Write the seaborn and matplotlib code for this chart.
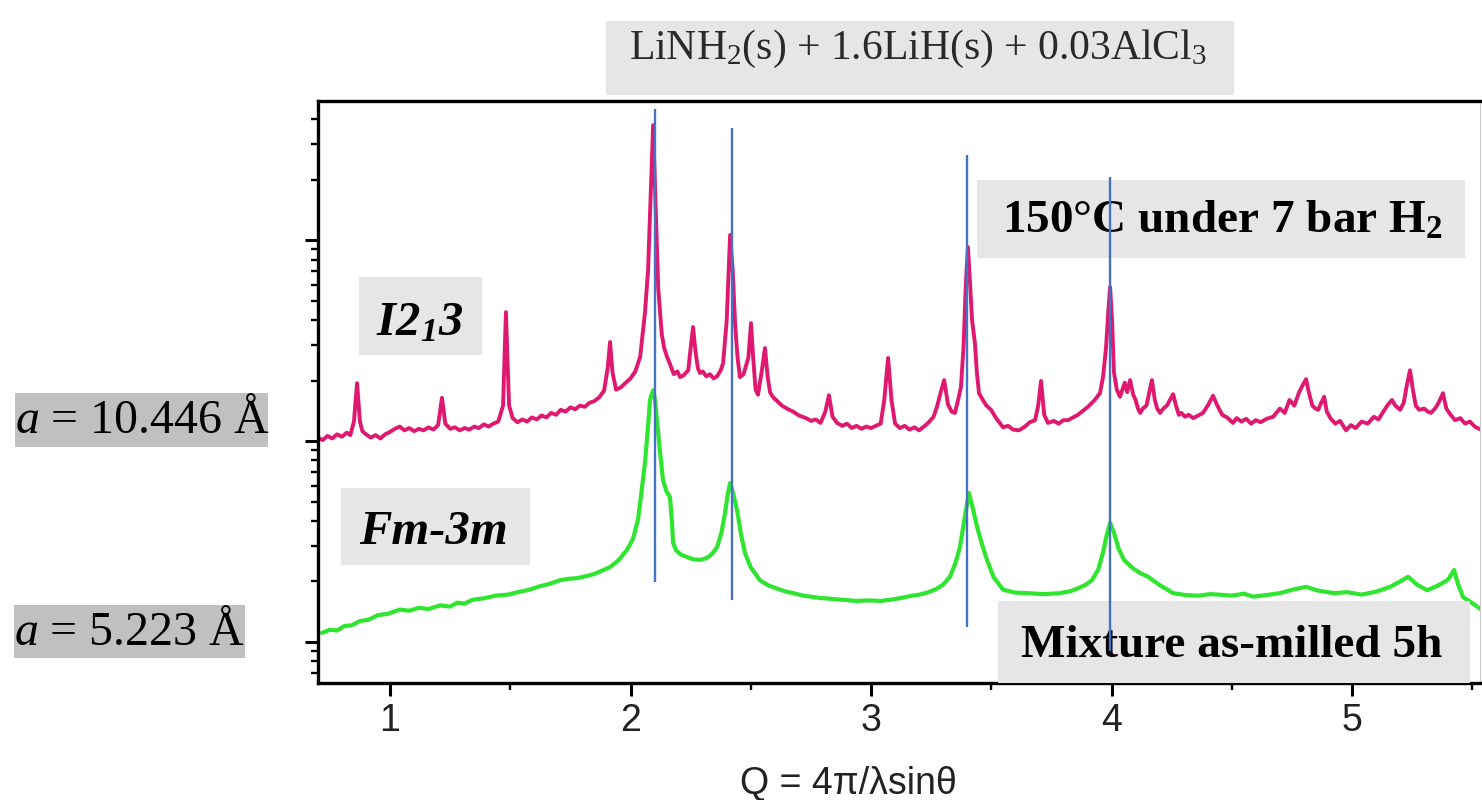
import matplotlib
matplotlib.use("Agg")
import matplotlib.pyplot as plt
import seaborn as sns
import numpy as np
from matplotlib.patches import Rectangle
from matplotlib.ticker import MultipleLocator, LogLocator, NullFormatter

# 150C / 7 bar H2 pattern (Q, counts)
pink_q = [0.70, 0.72, 0.74, 0.76, 0.78, 0.80, 0.82, 0.835, 0.85, 0.863,
          0.875, 0.885, 0.90, 0.92, 0.94, 0.96, 0.98, 1.00, 1.02, 1.04,
          1.06, 1.08, 1.10, 1.12, 1.14, 1.16, 1.18, 1.20, 1.216, 1.23,
          1.25, 1.27, 1.29, 1.31, 1.33, 1.35, 1.37, 1.39, 1.41, 1.43,
          1.45, 1.47, 1.482, 1.495, 1.51, 1.53, 1.55, 1.57, 1.59, 1.61,
          1.63, 1.65, 1.67, 1.69, 1.71, 1.73, 1.75, 1.77, 1.79, 1.81,
          1.83, 1.85, 1.87, 1.89, 1.905, 1.915, 1.925, 1.94, 1.96, 1.98,
          2.00, 2.02, 2.04, 2.06, 2.073, 2.085, 2.094, 2.105, 2.115, 2.13,
          2.14, 2.152, 2.165, 2.18, 2.195, 2.206, 2.22, 2.24, 2.25, 2.26,
          2.27, 2.28, 2.289, 2.30, 2.315, 2.33, 2.345, 2.36, 2.375, 2.385,
          2.40, 2.414, 2.425, 2.435, 2.445, 2.455, 2.47, 2.49, 2.501, 2.51,
          2.52, 2.53, 2.545, 2.559, 2.57, 2.58, 2.593, 2.61, 2.63, 2.65,
          2.676, 2.70, 2.73, 2.75, 2.77, 2.79, 2.81, 2.825, 2.84, 2.859,
          2.88, 2.90, 2.92, 2.94, 2.96, 2.98, 3.00, 3.02, 3.04, 3.055,
          3.071, 3.085, 3.10, 3.12, 3.14, 3.16, 3.18, 3.20, 3.22, 3.24,
          3.26, 3.274, 3.29, 3.304, 3.32, 3.335, 3.349, 3.362, 3.374, 3.385,
          3.394, 3.403, 3.412, 3.42, 3.432, 3.44, 3.449, 3.465, 3.48, 3.499,
          3.52, 3.549, 3.57, 3.59, 3.615, 3.64, 3.66, 3.682, 3.695, 3.707,
          3.72, 3.736, 3.76, 3.78, 3.80, 3.819, 3.84, 3.86, 3.88, 3.902,
          3.93, 3.952, 3.965, 3.977, 3.987, 3.994, 4.002, 4.010, 4.022, 4.035,
          4.045, 4.055, 4.065, 4.077, 4.09, 4.10, 4.11, 4.119, 4.13, 4.145,
          4.155, 4.168, 4.18, 4.19, 4.202, 4.215, 4.23, 4.245, 4.256, 4.268,
          4.28, 4.29, 4.306, 4.32, 4.34, 4.36, 4.38, 4.40, 4.422, 4.44,
          4.46, 4.48, 4.505, 4.52, 4.54, 4.56, 4.58, 4.60, 4.62, 4.645,
          4.672, 4.70, 4.72, 4.74, 4.76, 4.78, 4.795, 4.809, 4.82, 4.835,
          4.848, 4.859, 4.872, 4.884, 4.895, 4.91, 4.93, 4.95, 4.975, 4.995,
          5.015, 5.04, 5.065, 5.091, 5.11, 5.13, 5.15, 5.166, 5.18, 5.20,
          5.215, 5.228, 5.241, 5.253, 5.265, 5.279, 5.30, 5.315, 5.328, 5.345,
          5.36, 5.378, 5.392, 5.41, 5.428, 5.45, 5.47, 5.49, 5.51, 5.541]
pink_i = [104, 101, 106, 103, 108, 105, 110, 107, 125, 194,
          125, 112, 108, 104, 107, 103, 108, 111, 115, 118,
          113, 116, 112, 115, 113, 117, 114, 120, 164, 122,
          115, 117, 113, 116, 114, 118, 116, 121, 118, 122,
          125, 150, 438, 150, 130, 124, 128, 125, 131, 128,
          134, 131, 138, 135, 143, 140, 147, 144, 150, 148,
          155, 158, 165, 178, 230, 311, 220, 180, 185, 195,
          205, 222, 262, 434, 709, 1837, 3733, 1400, 580, 340,
          290, 262, 240, 215, 222, 208, 212, 225, 290, 369,
          280, 230, 218, 222, 210, 215, 205, 210, 225, 244,
          400, 1060, 700, 380, 260, 208, 215, 260, 386, 260,
          180, 170, 220, 290, 210, 175, 165, 158, 150, 145,
          140, 134, 130, 126, 128, 123, 140, 169, 132, 123,
          119, 122, 116, 119, 115, 118, 116, 119, 122, 160,
          259, 160, 122, 116, 119, 114, 117, 113, 118, 124,
          132, 148, 175, 201, 152, 140, 138, 160, 186, 300,
          600, 923, 600, 400, 307, 220, 173, 160, 150, 143,
          130, 117, 119, 114, 113, 118, 124, 127, 150, 199,
          135, 123, 126, 122, 127, 127, 131, 135, 141, 148,
          160, 173, 210, 290, 450, 584, 400, 220, 180, 166,
          180, 195, 175, 201, 170, 160, 145, 138, 145, 150,
          170, 201, 160, 145, 138, 145, 150, 162, 171, 150,
          135, 138, 132, 135, 130, 134, 138, 150, 168, 150,
          135, 131, 123, 130, 125, 129, 122, 127, 124, 129,
          132, 145, 138, 160, 150, 175, 190, 203, 175, 150,
          145, 143, 155, 166, 140, 130, 122, 126, 113, 120,
          116, 125, 122, 132, 128, 140, 152, 160, 150, 143,
          155, 190, 225, 180, 150, 143, 145, 140, 138, 145,
          155, 173, 145, 135, 127, 130, 122, 125, 118, 113]

# as-milled 5h pattern
green_q = [0.717, 0.75, 0.78, 0.81, 0.84, 0.875, 0.91, 0.95, 0.99, 1.042,
           1.08, 1.12, 1.16, 1.208, 1.25, 1.28, 1.31, 1.341, 1.39, 1.44,
           1.49, 1.541, 1.58, 1.62, 1.66, 1.707, 1.74, 1.78, 1.819, 1.85,
           1.88, 1.915, 1.95, 1.985, 2.01, 2.031, 2.045, 2.060, 2.072, 2.081,
           2.094, 2.102, 2.110, 2.122, 2.135, 2.15, 2.164, 2.172, 2.177, 2.19,
           2.21, 2.235, 2.26, 2.289, 2.31, 2.33, 2.345, 2.360, 2.378, 2.393,
           2.405, 2.414, 2.425, 2.443, 2.46, 2.476, 2.50, 2.538, 2.57, 2.60,
           2.64, 2.676, 2.72, 2.78, 2.83, 2.884, 2.94, 2.99, 3.04, 3.091,
           3.13, 3.16, 3.20, 3.233, 3.27, 3.30, 3.328, 3.35, 3.370, 3.39,
           3.407, 3.42, 3.441, 3.46, 3.482, 3.51, 3.549, 3.60, 3.649, 3.72,
           3.786, 3.83, 3.86, 3.89, 3.919, 3.945, 3.965, 3.98, 3.994, 4.01,
           4.03, 4.052, 4.09, 4.12, 4.152, 4.20, 4.256, 4.31, 4.36, 4.41,
           4.45, 4.50, 4.55, 4.588, 4.64, 4.70, 4.76, 4.809, 4.86, 4.925,
           4.98, 5.04, 5.10, 5.158, 5.20, 5.233, 5.27, 5.312, 5.35, 5.378,
           5.40, 5.424, 5.44, 5.462, 5.50, 5.541]
green_i = [11.1, 11.5, 11.4, 12.0, 12.1, 12.7, 12.9, 13.6, 13.8, 14.5,
           14.3, 14.8, 14.6, 15.2, 15.0, 15.7, 15.5, 16.2, 16.5, 17.0,
           17.2, 17.8, 18.2, 18.9, 19.4, 20.3, 20.6, 20.8, 21.3, 21.8,
           22.6, 23.6, 25.5, 28.7, 32.5, 40.5, 55, 77.8, 115, 160,
           179, 160, 127, 90, 63.9, 56, 52.6, 40, 31.1, 28.5,
           27.2, 26.5, 25.8, 25.6, 26.0, 26.8, 28, 29.7, 35, 43.9,
           55, 61.8, 56, 45.4, 34, 27.7, 23.5, 20.3, 19.2, 18.6,
           17.9, 17.5, 17.0, 16.6, 16.4, 16.2, 16.0, 16.1, 16.0, 16.3,
           16.6, 16.9, 17.2, 17.6, 18.3, 19.3, 21.1, 24.5, 29.7, 42,
           55.1, 48, 37.4, 31, 25.6, 21, 18.2, 17.6, 17.5, 17.3,
           17.5, 17.9, 18.5, 19.2, 20.3, 23, 28, 34, 39.1, 35,
           29, 25.6, 23.2, 22.0, 21.1, 19.2, 17.5, 17.1, 17.0, 17.3,
           17.2, 17.0, 17.4, 16.8, 17.1, 17.5, 18.3, 18.8, 18.0, 17.5,
           17.7, 17.2, 17.8, 18.8, 20.0, 21.1, 19.3, 18.1, 18.9, 19.7,
           20.5, 22.8, 19.5, 16.7, 15.6, 14.4]

# reference peak markers
marker_q = [2.102, 2.422, 3.399, 3.994]
marker_top = [4487, 3606, 2650, 2056]
marker_bottom = [19.9, 16.2, 11.9, 9.0]

x_ticks = [1, 2, 3, 4, 5]

W, H = 1482, 800

sns.set_style("white")
plt.rcParams['font.family'] = ['Liberation Sans', 'DejaVu Sans']
plt.rcParams['mathtext.fontset'] = 'custom'
plt.rcParams['mathtext.rm'] = 'Liberation Serif'
plt.rcParams['mathtext.it'] = 'Liberation Serif:italic'
plt.rcParams['mathtext.bf'] = 'Liberation Serif:bold'
plt.rcParams['mathtext.bfit'] = 'Liberation Serif:italic:bold'

fig = plt.figure(figsize=(W / 100, H / 100), dpi=100)
ax = fig.add_axes([318 / W, 1 - 683 / H, (1480 - 318) / W, (683 - 101) / H])

sns.lineplot(x=pink_q, y=pink_i, ax=ax, color='#df1870', lw=2.8,
             estimator=None, sort=False, zorder=2)
sns.lineplot(x=green_q, y=green_i, ax=ax, color='#2fe52f', lw=3.0,
             estimator=None, sort=False, zorder=2)
ax.vlines(marker_q, marker_bottom, marker_top, color='#4472c4', lw=1.7, zorder=6)

ax.set_yscale('log')
ax.set_xlim(0.7006, 5.532)
ax.set_ylim(6.25, 4920)
ax.set_xticks(x_ticks)
ax.set_xticklabels([str(t) for t in x_ticks])
ax.xaxis.set_minor_locator(MultipleLocator(0.5))
ax.yaxis.set_major_locator(LogLocator(base=10))
ax.yaxis.set_minor_locator(LogLocator(base=10, subs=np.arange(2, 10)))
ax.yaxis.set_major_formatter(NullFormatter())
ax.yaxis.set_minor_formatter(NullFormatter())
ax.tick_params(which='both', direction='out', colors='black')
ax.tick_params(which='major', length=9.5, width=2.2, labelsize=27, pad=5,
               labelcolor='#222222')
ax.tick_params(which='minor', length=5, width=1.7)
ax.tick_params(axis='y', which='both', left=True, right=False)
ax.tick_params(axis='x', which='both', bottom=True, top=False)
ax.set_xlabel('')
ax.set_ylabel('')
for side in ['left', 'bottom', 'top']:
    ax.spines[side].set_linewidth(2.4)
    ax.spines[side].set_color('black')
ax.spines['right'].set_linewidth(0.8)
ax.spines['right'].set_color('#cccccc')

fig.text(848 / W, 1 - 784 / H, 'Q = 4π/λsinθ', ha='center', va='center',
         fontsize=27, color='#222222')


def box(x0, y0, x1, y1, color):
    ax.add_patch(Rectangle((x0 / W, 1 - y1 / H), (x1 - x0) / W, (y1 - y0) / H,
                           transform=fig.transFigure, facecolor=color,
                           edgecolor='none', clip_on=False, zorder=4))


def label(x, y, s, ha='center', color='black', **kw):
    ax.text(x / W, 1 - y / H, s, transform=fig.transFigure, ha=ha,
            va='baseline', clip_on=False, zorder=5, color=color,
            family=['Liberation Serif', 'DejaVu Serif'], **kw)


box(606, 21, 1234, 95, '#e6e6e6')
label(918, 59, r'LiNH$_2$(s) + 1.6LiH(s) + 0.03AlCl$_3$', fontsize=30, color='#2a2a2a')

box(977, 180, 1465, 258, '#e6e6e6')
label(1222, 233, r'150°C under 7 bar H$_\mathbf{2}$', fontsize=34, fontweight='bold')

box(359, 277, 482, 355, '#e6e6e6')
label(420, 335, r'$\mathbfit{I2}_{\mathbfit{1}}\mathbfit{3}$', fontsize=35)

box(341, 488, 530, 565, '#e6e6e6')
label(433, 544, 'Fm-3m', fontsize=35, fontweight='bold', fontstyle='italic')

box(998, 601, 1470, 683, '#e6e6e6')
label(1232, 657, 'Mixture as-milled 5h', fontsize=34, fontweight='bold')

box(15, 393, 268, 447, '#c0c0c0')
label(15, 433, r'$a$ = 10.446 Å', ha='left', fontsize=34.5)

box(14, 605, 245, 658, '#c0c0c0')
label(14, 645, r'$a$ = 5.223 Å', ha='left', fontsize=34.5)

plt.savefig('out.png', dpi=100)
